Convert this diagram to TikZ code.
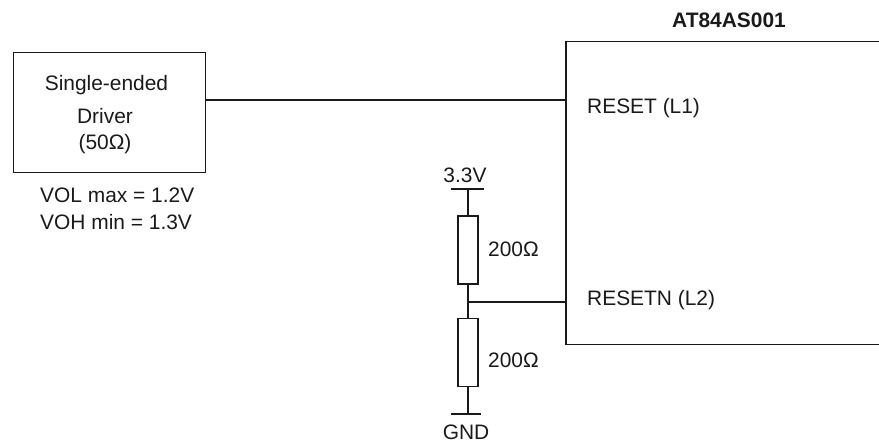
\documentclass[tikz,border=0pt]{standalone}
\usepackage{fontspec}
\setmainfont{Liberation Sans}
\newcommand{\px}{0.0352778cm}
\definecolor{ink}{HTML}{1A1A1A}
\begin{document}
\begin{tikzpicture}[x=\px,y=-\px,
  box/.style={draw=ink,line width=1.5pt,fill=white,inner sep=0pt,anchor=north west},
  res/.style={draw=ink,line width=1.4pt,fill=white,inner sep=0pt,minimum width=20*\px,minimum height=68*\px},
  wire/.style={draw=ink,line width=1.2pt},
  lab/.style={text=ink,font=\fontsize{21pt}{24pt}\selectfont,inner sep=0pt}]
\useasboundingbox (0,0) rectangle (879,443);
\node[box,minimum width=192*\px,minimum height=120*\px] (drv) at (13,52) {};
\node[box,minimum width=318*\px,minimum height=303*\px] (chip) at (565,41) {};
\node[lab] (l1) at (106.5,85) {Single-ended};
\node[lab] (l2) at (105,116) {Driver};
\node[lab] (l3) at (105,144) {(50Ω)};
\node[lab,anchor=west] (vol) at (40,195.5) {VOL max = 1.2V};
\node[lab,anchor=west] (voh) at (40,222.5) {VOH min = 1.3V};
\node[lab,font=\fontsize{21pt}{24pt}\selectfont\bfseries] (title) at (729,20.5) {AT84AS001};
\node[lab,anchor=west] (reset) at (587,108) {RESET (L1)};
\node[lab,anchor=west] (resetn) at (587,300) {RESETN (L2)};
\coordinate (pL1) at (565,100);
\coordinate (pL2) at (567,302);
\draw[wire] (drv.east |- pL1) -- (pL1);
\node[res] (r1) at (468,250) {};
\node[res] (r2) at (468,352.5) {};
\node[lab] (v33) at (465,175) {3.3V};
\node[lab] (gnd) at (466,432) {GND};
\node[lab,anchor=west] (r1l) at (488,249) {200Ω};
\node[lab,anchor=west] (r2l) at (488,360) {200Ω};
\coordinate (t1) at (451,189);
\coordinate (t2) at (484,189);
\coordinate (b1) at (451,414);
\coordinate (b2) at (481,414);
\coordinate (tm) at (468,189);
\coordinate (bm) at (468,414);
\coordinate (j) at (468,302);
\draw[wire] (t1) -- (t2);
\draw[wire] (b1) -- (b2);
\draw[wire] (tm) -- (r1.north);
\draw[wire] (r1.south) -- (r2.north);
\draw[wire] (r2.south) -- (bm);
\draw[wire] (j) -- (pL2);
\end{tikzpicture}
\end{document}
